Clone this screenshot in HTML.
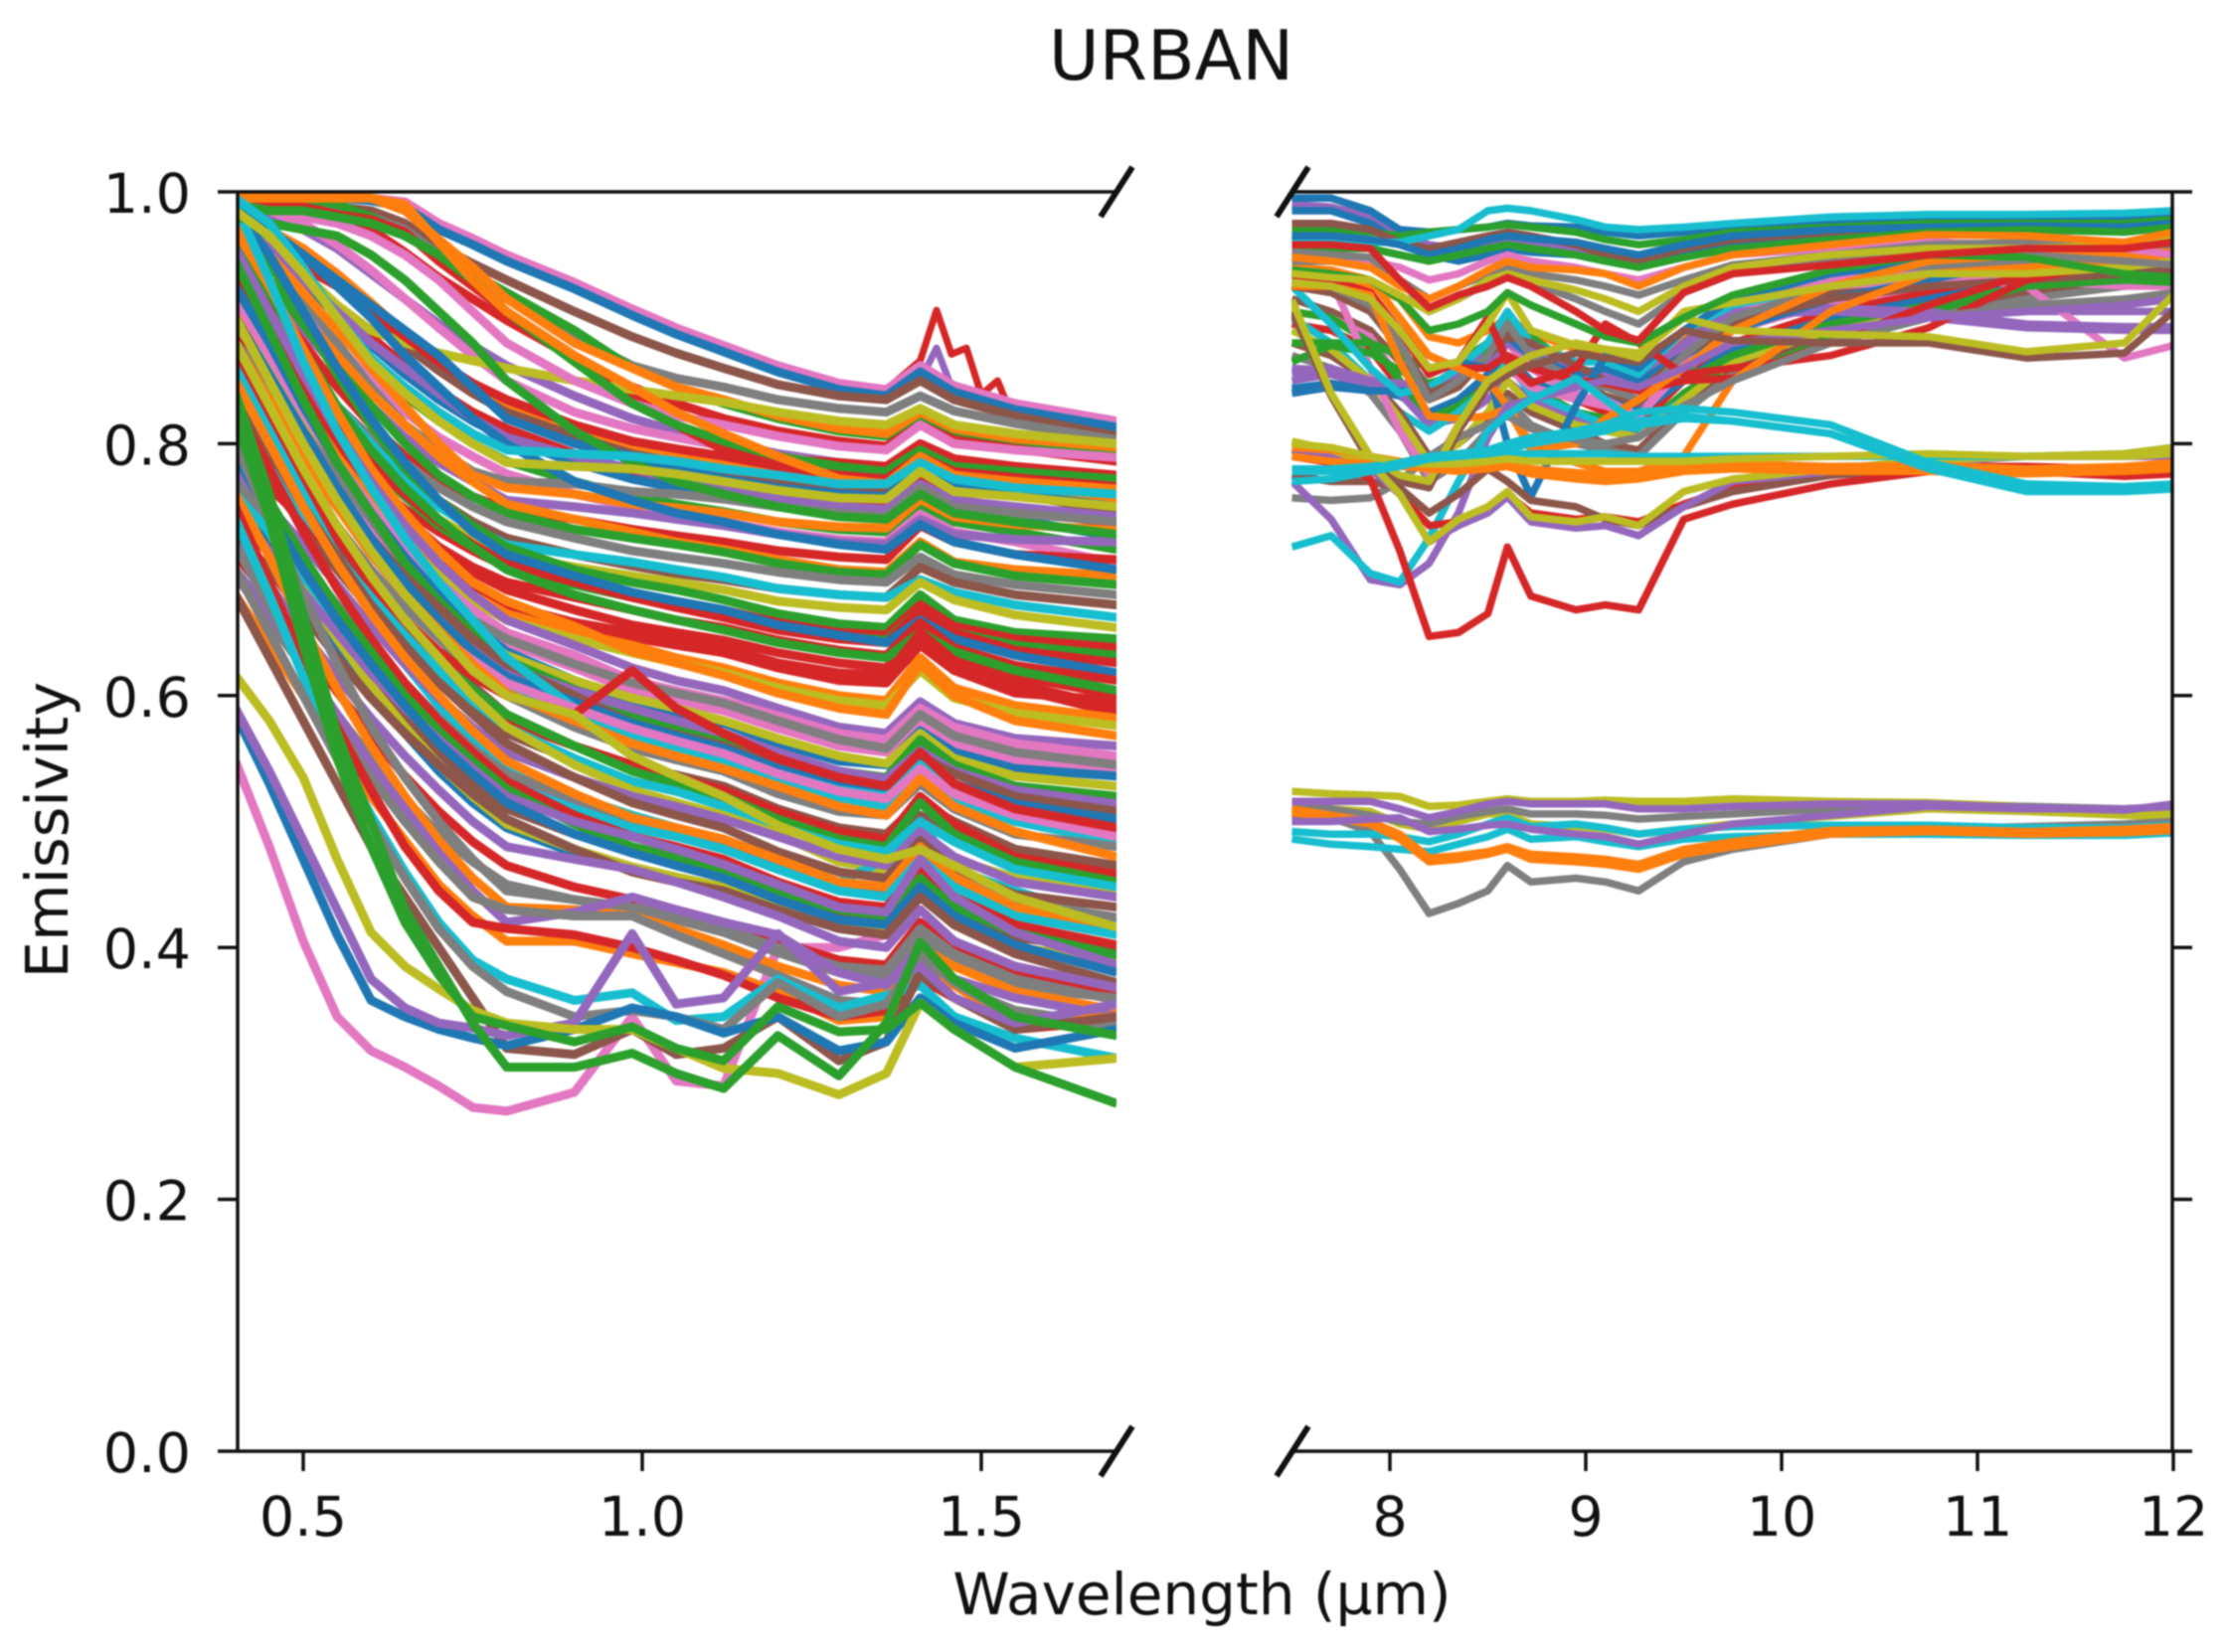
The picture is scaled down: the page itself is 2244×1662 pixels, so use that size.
<!DOCTYPE html>
<html lang="en">
<head>
<meta charset="utf-8">
<title>URBAN emissivity spectra</title>
<style>
html,body{margin:0;padding:0;background:#fff;width:2244px;height:1662px;overflow:hidden}
svg{display:block;filter:blur(0.7px)}
text{font-family:"DejaVu Sans","Liberation Sans",sans-serif;fill:#111}
</style>
</head>
<body>
<svg id="chart" xmlns="http://www.w3.org/2000/svg" width="2244" height="1662" viewBox="0 0 2244 1662">
<defs>
<clipPath id="clip-left"><rect x="239" y="193" width="884" height="1267"/></clipPath>
<clipPath id="clip-right"><rect x="1299" y="193" width="886" height="1267"/></clipPath>
</defs>
<g id="left-lines" clip-path="url(#clip-left)" fill="none" stroke-linejoin="round"></g>
<g id="right-lines" clip-path="url(#clip-right)" fill="none" stroke-linejoin="round"></g>
<g id="axes" stroke="#111" fill="none"></g>
<g id="labels" font-size="55.5"></g>
<text x="1178" y="80" font-size="69.5" text-anchor="middle">URBAN</text>
<text x="1209" y="1624" font-size="58" text-anchor="middle">Wavelength (µm)</text>
<text transform="translate(68,835) rotate(-90)" font-size="59" text-anchor="middle">Emissivity</text>
</svg>
<script>
const palette = ["#1f77b4","#ff7f0e","#2ca02c","#d62728","#9467bd","#8c564b","#e377c2","#7f7f7f","#bcbd22","#17becf"];

const leftWavelengths = [0.40,0.45,0.50,0.55,0.60,0.65,0.70,0.75,0.80,0.90,0.985,1.05,1.12,1.20,1.29,1.36,1.41,1.46,1.55,1.70];
const rightWavelengths = [7.5,7.7,7.9,8.05,8.2,8.35,8.5,8.6,8.72,8.95,9.1,9.27,9.5,9.75,10.25,10.75,11.25,11.75,12];

const leftTickValues = [0.5,1.0,1.5];
const leftTickLabels = ["0.5","1.0","1.5"];
const rightTickValues = [8,9,10,11,12];
const rightTickLabels = ["8","9","10","11","12"];
const yTickValues = [0,0.2,0.4,0.6,0.8,1.0];
const yTickLabels = ["0.0","0.2","0.4","0.6","0.8","1.0"];

const spikeWavelengths = [1.36,1.41,1.434,1.456,1.478,1.50,1.524,1.54,1.60];
const spikeRedValues = [843,866,906,871,876,839,850,829,822];
const spikePurpleValues = [835,850,876,845,835,830,826,824,820];

/* emissivity × 1000, one row per spectrum, painted in order */
const leftSeries = [
[548,480,405,345,318,305,290,273,270,285,345,294,290,400,400,410,440,420,400,385],
[995,995,995,995,995,992,975,963,950,928,907,892,878,862,848,843,862,846,832,818],
[995,995,995,995,993,988,970,958,945,923,902,887,873,857,843,838,857,841,827,813],
[990,990,990,988,985,975,957,943,930,905,885,872,860,847,838,835,850,835,822,806],
[985,985,985,985,980,970,950,930,915,885,862,852,845,835,828,825,838,826,816,803],
[995,995,995,990,980,965,950,935,920,890,860,845,832,820,810,806,822,810,802,794],
[990,990,988,982,970,952,932,915,898,868,845,832,820,810,802,798,815,803,796,786],
[985,980,970,955,935,915,895,878,862,838,820,810,802,792,785,782,798,786,780,770],
[990,985,975,958,938,915,892,870,850,825,812,805,798,790,784,780,798,786,778,768],
[980,970,955,935,912,888,865,845,828,808,796,790,784,776,770,766,784,772,766,756],
[975,962,945,925,900,878,858,840,825,806,792,785,778,770,764,762,780,768,760,746],
[970,955,935,910,885,862,842,825,812,792,778,772,766,758,752,750,770,756,748,736],
[965,950,928,902,878,855,835,818,804,785,772,765,758,750,744,740,760,748,740,726],
[960,940,915,890,862,838,818,800,786,770,758,752,746,738,732,730,752,738,730,716],
[950,930,905,878,850,825,805,790,776,760,750,744,738,730,724,722,744,730,722,705],
[920,885,845,808,772,742,718,698,684,668,656,650,644,634,626,622,650,630,616,600],
[910,872,830,792,758,728,705,686,672,658,646,640,634,624,616,612,644,622,606,586],
[890,850,808,770,735,705,680,660,642,622,604,596,588,574,560,555,580,562,548,540],
[875,835,792,752,718,688,662,640,620,598,582,574,566,552,536,530,558,540,522,512],
[880,838,792,750,712,680,652,628,608,582,566,558,548,534,518,512,538,518,500,484],
[800,770,735,700,668,640,612,590,570,548,532,524,516,500,484,478,505,486,466,454],
[770,738,702,668,636,606,578,555,535,512,498,490,482,465,448,442,475,452,430,420],
[745,712,678,645,612,582,555,530,510,490,476,468,458,442,425,420,452,430,408,398],
[760,720,678,638,602,570,540,515,495,475,462,454,445,430,415,410,440,420,398,388],
[775,730,685,645,608,575,545,520,498,478,464,456,448,432,416,412,445,422,400,390],
[712,678,640,603,568,536,508,484,465,448,438,430,420,405,390,386,420,398,378,366],
[695,660,622,585,550,518,490,468,450,438,430,422,412,396,380,378,408,388,368,360],
[985,985,985,982,978,968,945,925,905,870,838,815,795,788,785,782,800,788,782,775],
[995,995,995,995,995,985,962,940,915,880,860,845,835,822,812,808,825,812,804,797],
[985,960,935,910,890,880,872,866,860,850,843,838,833,825,818,815,828,815,808,800],
[990,985,980,975,965,950,930,905,880,850,832,822,815,806,798,795,815,800,795,789],
[990,985,985,980,975,965,950,930,905,865,832,815,802,790,782,778,795,782,778,772],
[960,950,940,925,905,885,865,848,835,815,802,796,790,782,775,772,790,778,773,766],
[980,965,950,930,910,890,870,845,820,800,790,780,772,765,760,758,780,765,760,750],
[975,955,930,905,880,860,840,820,805,790,780,772,765,756,750,748,768,755,750,742],
[970,945,915,880,845,815,795,778,770,768,762,760,756,750,745,742,765,750,745,738],
[975,950,920,890,860,830,800,775,765,760,752,749,745,738,734,733,756,742,736,731],
[950,925,890,860,830,805,785,770,755,750,745,740,735,728,722,720,740,728,724,722],
[945,915,880,845,815,790,770,758,748,740,732,727,722,715,710,708,735,722,712,708],
[960,930,900,870,840,815,790,770,752,740,730,722,716,708,700,698,722,706,700,695],
[965,930,895,860,830,800,775,758,745,732,725,720,714,705,698,696,720,705,695,688],
[935,905,865,830,805,785,765,750,738,725,715,710,705,698,692,690,710,696,688,680],
[930,895,860,830,800,775,755,738,725,712,703,697,692,685,680,678,702,690,680,672],
[925,890,860,830,800,772,750,733,720,712,706,700,694,685,680,678,692,682,672,662],
[900,870,835,805,780,758,740,725,712,702,695,690,684,675,670,668,690,676,664,654],
[985,945,900,855,815,780,755,735,718,700,690,684,676,665,657,654,680,660,650,645],
[890,860,825,795,770,748,730,715,702,690,680,674,668,658,650,648,672,655,645,638],
[940,900,860,820,785,758,735,718,703,688,678,671,664,654,647,644,668,650,640,632],
[935,900,860,820,785,760,738,720,705,690,678,670,662,652,645,642,668,650,636,626],
[985,950,905,860,820,785,755,730,712,695,682,675,668,656,648,642,660,645,632,618],
[880,850,815,785,758,735,718,702,690,678,668,660,654,644,636,632,658,638,624,612],
[960,920,875,830,795,765,740,718,700,680,668,660,652,642,634,630,650,635,620,604],
[945,900,850,805,765,730,700,680,668,658,650,642,634,622,612,610,640,620,602,596],
[930,890,840,795,755,722,695,675,662,655,650,645,638,626,618,616,650,628,610,590],
[905,870,830,790,755,725,700,680,665,650,640,630,622,610,600,596,630,606,592,582],
[895,860,822,785,750,720,695,675,660,645,634,626,618,606,596,592,620,598,586,576],
[970,925,875,825,780,745,715,690,675,655,635,626,616,602,590,585,625,600,580,568],
[955,905,855,810,770,735,705,680,660,640,622,612,604,590,575,570,595,578,566,560],
[915,870,825,785,750,715,690,668,650,632,612,604,596,584,570,565,590,575,562,552],
[880,850,810,775,740,705,680,660,645,625,610,602,594,580,565,558,585,568,555,545],
[925,880,830,785,745,710,680,655,635,612,595,586,578,562,548,545,572,555,542,536],
[860,830,795,760,725,695,670,650,632,612,598,590,580,566,552,546,570,550,536,528],
[945,890,835,785,745,705,675,650,628,605,585,575,565,552,540,535,565,545,528,520],
[850,820,785,750,715,685,660,640,622,604,590,580,570,555,540,534,556,540,525,514],
[860,830,795,760,725,695,670,645,625,600,578,569,560,545,530,525,552,538,520,508],
[900,855,810,765,725,690,660,635,615,595,578,568,558,542,528,522,548,530,514,502],
[990,930,865,810,765,725,690,660,630,590,570,561,552,538,525,520,545,530,505,494],
[820,790,760,728,698,670,648,628,610,590,574,564,554,538,524,518,542,522,505,488],
[835,800,770,735,700,670,645,620,600,575,558,549,540,522,508,505,530,510,490,480],
[880,835,790,750,712,680,652,625,602,580,562,552,542,528,512,505,534,512,492,472],
[825,790,755,720,690,660,632,608,585,560,545,537,528,510,495,490,515,500,478,465],
[790,765,740,710,680,650,625,600,580,560,545,535,525,508,492,486,520,498,472,458],
[870,820,775,735,695,660,630,605,585,560,540,530,520,502,486,480,515,490,468,452],
[815,780,745,710,678,648,620,596,575,550,532,524,512,496,482,476,500,484,462,448],
[870,820,770,725,690,660,635,615,600,585,620,590,570,550,535,528,555,530,510,495],
[880,830,780,735,695,660,630,600,575,545,525,515,505,490,468,462,472,470,455,441],
[860,810,760,710,665,625,592,565,545,520,505,495,485,470,452,470,500,462,445,420],
[780,750,720,688,655,625,598,575,555,535,520,512,502,488,472,465,492,472,452,440],
[840,795,750,710,672,640,610,585,562,535,515,505,495,476,460,455,485,462,442,432],
[770,740,705,672,640,610,582,558,538,518,502,494,485,468,450,445,478,455,436,424],
[850,800,750,705,665,630,600,572,548,522,503,495,486,470,452,448,480,456,432,416],
[760,730,695,660,628,598,572,550,530,510,495,488,478,462,445,440,470,448,425,410],
[830,780,730,685,645,610,580,555,532,505,488,480,470,452,436,432,462,440,418,402],
[800,755,710,670,635,600,572,548,526,498,480,472,462,445,430,425,455,432,412,394],
[745,715,682,650,618,590,565,542,520,500,488,478,466,450,432,428,470,440,412,386],
[790,745,700,660,625,592,562,538,515,490,475,465,455,438,422,418,448,425,402,380],
[730,700,665,630,598,570,545,522,502,478,460,452,445,430,415,410,440,418,395,372],
[720,688,650,615,582,552,525,500,480,470,462,452,440,425,405,400,430,405,385,368],
[800,740,680,625,575,535,500,470,445,438,432,425,415,400,385,382,415,395,375,358],
[760,710,655,605,560,520,485,455,432,430,425,415,402,385,370,365,400,385,365,350],
[700,665,625,585,545,510,475,445,420,428,440,430,420,410,380,370,400,375,360,345],
[720,670,620,575,535,500,468,440,430,425,425,410,395,378,358,355,388,370,350,338],
[680,640,600,560,520,485,450,425,405,405,395,388,380,365,342,345,376,370,340,345],
[750,690,630,575,525,480,445,420,415,410,400,390,378,360,345,350,375,360,335,342],
[740,680,615,555,505,460,420,390,375,358,364,342,345,375,352,362,370,345,328,312],
[700,650,600,550,500,455,415,385,365,345,350,345,335,372,345,355,395,372,345,338],
[680,630,580,530,480,440,400,360,320,315,335,315,320,345,310,325,380,360,335,345],
[585,530,470,410,358,345,335,328,322,335,352,345,332,345,318,325,360,340,320,335],
[590,540,485,430,375,352,340,336,330,340,411,355,360,411,365,372,385,360,340,355],
[616,580,535,470,412,385,367,350,340,335,335,320,304,300,283,300,356,335,305,312],
[840,760,665,570,500,430,385,340,305,305,316,300,288,330,298,340,404,375,345,330],
[820,740,640,550,480,420,378,345,338,325,337,320,310,353,333,335,356,335,305,276],
[900,850,800,755,715,680,650,620,600,585,552,536,520,497,478,470,478,465,440,416],
[980,975,970,965,950,930,905,880,850,810,785,770,760,750,742,740,760,745,738,728],
[985,970,950,925,900,870,845,820,800,770,755,745,738,728,720,716,736,722,712,700],
[995,995,995,995,995,990,960,930,905,870,845,825,808,790,772,768,790,775,770,764],
[995,975,940,900,868,845,825,808,795,792,790,786,780,775,768,768,785,772,765,760],
[985,965,935,900,865,840,818,800,785,782,780,776,770,763,757,756,778,762,758,750]
];
const leftSeriesColors = [6,6,0,5,7,2,3,4,6,1,5,3,0,2,6,3,3,6,4,9,5,4,5,0,8,3,7,3,1,8,6,2,3,0,4,7,1,4,3,1,2,7,5,9,8,2,3,2,3,0,3,2,3,3,1,8,1,4,6,7,0,8,2,4,5,0,9,6,7,1,5,3,2,9,3,8,9,4,5,7,1,9,3,2,4,0,5,4,7,1,4,7,1,3,9,7,5,0,4,8,2,2,8,2,0,1,9,8];

const rightSeries = [
[935,930,925,915,885,880,890,900,888,875,870,860,885,915,935,945,948,950,952],
[925,920,905,875,845,860,880,905,880,858,850,842,880,910,930,940,945,945,945],
[915,905,890,865,835,845,870,890,865,850,838,830,865,900,920,930,935,938,940],
[905,900,885,850,820,830,855,880,860,840,832,825,855,890,912,925,930,930,935],
[895,890,875,845,815,825,850,870,850,835,825,815,850,880,905,920,930,935,940],
[840,845,842,838,825,835,855,870,850,835,835,825,850,875,900,915,930,938,942],
[905,900,880,850,820,830,845,865,845,825,820,810,840,865,890,910,925,930,932],
[860,858,850,840,815,820,835,850,835,820,815,805,835,860,885,900,905,905,905],
[900,880,850,825,810,825,845,865,840,825,815,812,835,855,880,905,925,935,940],
[880,870,850,825,790,800,820,840,825,810,800,795,830,860,885,905,920,925,930],
[890,875,850,820,785,800,825,850,830,815,810,805,835,865,890,910,925,935,945],
[870,860,840,810,770,785,810,835,815,800,795,790,825,855,880,900,915,925,935],
[965,960,955,950,945,950,955,958,955,950,945,940,948,955,962,968,970,968,972],
[930,930,860,810,775,815,845,860,845,835,830,820,870,900,925,930,930,925,925],
[925,925,915,890,860,860,875,880,860,838,835,822,860,905,930,935,925,868,878],
[880,880,880,870,860,865,880,895,885,860,855,845,850,870,895,910,925,930,928],
[865,878,872,858,848,855,875,900,880,850,845,835,860,850,885,905,925,935,930],
[856,860,850,848,845,860,870,885,875,860,855,850,880,905,908,905,895,893,893],
[850,855,845,842,840,855,865,880,870,855,850,845,875,902,905,900,892,890,890],
[844,848,842,842,840,850,870,885,870,855,860,850,870,890,915,930,945,950,955],
[925,895,860,840,845,860,880,905,880,865,865,855,890,910,925,935,940,945,950],
[925,920,905,880,840,850,870,885,880,862,850,842,870,895,915,925,930,935,938],
[930,925,910,880,835,850,870,895,870,850,845,835,870,900,925,935,945,945,945],
[935,930,915,890,860,865,860,800,758,830,870,860,890,915,935,945,950,952,955],
[925,925,915,890,855,865,900,865,848,860,895,880,855,860,870,892,930,945,958],
[930,930,920,890,870,860,860,870,860,850,848,842,850,852,880,910,935,950,960],
[925,925,918,865,822,820,822,828,795,800,820,835,860,890,925,945,950,950,955],
[940,938,930,900,870,860,850,830,800,785,778,778,790,850,905,935,940,945,950],
[757,755,757,770,790,805,815,822,812,803,800,805,830,850,880,900,910,915,920],
[770,740,692,688,705,745,805,830,835,845,850,845,860,880,890,900,905,910,915],
[905,838,785,770,765,810,845,855,862,872,868,865,890,882,880,880,868,872,905],
[914,840,790,775,770,815,850,860,870,880,875,872,900,890,887,885,873,880,918],
[928,925,915,890,860,865,895,920,890,878,875,868,905,912,925,935,935,940,945],
[990,988,980,965,958,955,958,960,958,955,950,948,950,955,960,965,968,970,975],
[995,995,985,970,968,970,972,975,973,972,968,965,968,972,975,978,978,978,982],
[985,985,975,960,950,945,950,955,952,950,945,942,950,958,965,970,972,972,978],
[970,970,968,965,968,970,972,974,972,968,962,958,962,968,972,975,975,975,978],
[975,975,970,960,955,960,965,968,965,958,950,945,955,962,968,972,972,970,972],
[960,960,960,960,965,970,985,987,985,978,972,970,972,975,980,982,982,983,985],
[965,965,962,958,950,955,962,965,963,960,955,950,958,965,970,972,973,972,975],
[955,955,955,950,945,950,955,958,955,950,945,940,948,955,962,968,970,968,972],
[950,948,945,940,930,935,945,950,945,940,935,930,940,950,955,960,958,955,950],
[945,945,940,930,915,925,935,940,935,930,925,918,930,942,950,958,960,958,958],
[952,950,948,930,905,915,928,935,928,915,905,895,920,935,945,952,950,945,942],
[938,935,930,915,890,895,905,920,910,895,885,880,900,918,938,950,948,935,932],
[935,932,930,918,905,915,930,935,930,922,915,905,925,940,950,955,955,958,962],
[948,945,940,925,915,925,938,945,940,938,935,925,940,950,958,966,965,960,968],
[958,958,955,930,908,918,925,932,925,905,890,882,920,935,942,950,955,955,960],
[718,727,697,690,725,770,810,823,835,852,835,815,820,818,808,782,765,764,766],
[790,785,780,760,735,738,750,760,745,740,742,738,752,765,775,782,782,780,780],
[775,770,770,765,745,760,780,770,755,750,740,735,750,762,775,780,780,778,782],
[795,790,772,715,647,650,665,718,679,668,672,668,740,752,768,778,778,774,776],
[795,790,780,760,722,735,745,758,738,733,735,727,750,770,778,785,790,790,790],
[802,795,785,760,722,740,750,762,742,738,742,735,762,772,780,787,790,790,792],
[790,786,784,782,780,778,780,782,776,772,770,772,778,780,778,778,776,778,780],
[797,795,790,786,782,782,782,784,780,777,775,778,782,784,782,783,780,782,785],
[780,780,782,785,788,790,791,792,792,792,792,790,790,790,790,790,790,792,797],
[800,797,790,785,784,784,786,788,786,786,786,786,786,788,790,792,790,792,797],
[770,772,778,782,788,790,792,796,800,806,810,818,822,818,808,780,762,762,764],
[778,778,780,785,790,792,795,800,805,810,815,825,828,825,815,785,768,766,768],
[512,510,508,498,494,500,506,506,498,496,494,490,494,498,504,510,508,505,503],
[524,522,521,520,512,513,516,518,516,516,517,516,516,518,516,515,512,508,506],
[510,510,505,500,498,504,508,510,506,506,505,502,504,506,510,512,512,510,512],
[505,503,492,462,427,435,445,465,452,455,452,445,468,478,490,494,496,498,500],
[492,490,490,488,484,490,498,503,496,498,495,490,494,496,497,497,495,495,497],
[486,482,480,478,476,482,488,494,486,488,484,480,486,488,490,490,489,489,491],
[510,505,500,490,471,473,476,480,474,472,470,466,478,484,493,494,492,494,496],
[507,503,498,486,468,470,474,478,470,468,466,462,474,480,490,492,490,491,493],
[500,500,502,503,492,494,497,498,494,490,488,482,490,498,505,512,510,510,512],
[516,516,516,510,503,508,514,516,514,514,514,510,510,512,514,514,511,509,514]
];
const rightSeriesColors = [1,7,5,6,3,0,2,4,9,5,8,7,2,6,6,2,2,4,4,0,9,5,7,0,3,3,1,1,7,4,5,8,8,4,0,0,2,5,9,0,2,6,7,7,2,8,1,3,9,3,5,3,4,8,1,1,9,8,9,9,8,8,7,7,9,9,1,1,4,4];

function xLeft(w){ return 305 + (w - 0.5) * 682; }
function xRight(w){ return 1398 + (w - 8) * 197; }
function yAxis(e){ return 1460 - e * 1267; }

const svgNS = "http://www.w3.org/2000/svg";

function drawSpectrum(parent, wavelengths, values, colorIndex, xFn, strokeWidth, name){
  const line = document.createElementNS(svgNS, "polyline");
  
  
  const pts = [];
  for (let i = 0; i < values.length; i++) {
    pts.push(xFn(wavelengths[i]).toFixed(1) + "," + yAxis(values[i] / 1000).toFixed(1));
  }
  line.setAttribute("points", pts.join(" "));
  line.setAttribute("stroke", palette[colorIndex]);
  line.setAttribute("stroke-width", strokeWidth);
  parent.appendChild(line);
}

const leftGroup = document.getElementById("left-lines");
const rightGroup = document.getElementById("right-lines");
drawSpectrum(leftGroup, spikeWavelengths, spikeRedValues, 3, xLeft, 7, "spike-red-spectrum");
drawSpectrum(leftGroup, spikeWavelengths, spikePurpleValues, 4, xLeft, 7, "spike-purple-spectrum");
leftSeries.forEach(function(values, i){
  drawSpectrum(leftGroup, leftWavelengths, values, leftSeriesColors[i], xLeft, 9, "vnir-spectrum-line");
});
rightSeries.forEach(function(values, i){
  drawSpectrum(rightGroup, rightWavelengths, values, rightSeriesColors[i], xRight, 7.5, "tir-spectrum-line");
});

const axes = document.getElementById("axes");
const labels = document.getElementById("labels");

function segment(x1, y1, x2, y2, width, name){
  const seg = document.createElementNS(svgNS, "line");
  
  
  seg.setAttribute("x1", x1);
  seg.setAttribute("y1", y1);
  seg.setAttribute("x2", x2);
  seg.setAttribute("y2", y2);
  seg.setAttribute("stroke-width", width);
  axes.appendChild(seg);
}
function label(x, y, anchor, str, name){
  const t = document.createElementNS(svgNS, "text");
  
  
  t.setAttribute("x", x);
  t.setAttribute("y", y);
  t.setAttribute("text-anchor", anchor);
  t.textContent = str;
  labels.appendChild(t);
}

segment(239, 193, 239, 1460, 3.5, "left-panel-left-spine");
segment(2185, 193, 2185, 1460, 3.5, "right-panel-right-spine");
segment(239, 193, 1123, 193, 3.5, "left-panel-top-spine");
segment(239, 1460, 1123, 1460, 3.5, "left-panel-bottom-spine");
segment(1299, 193, 2185, 193, 3.5, "right-panel-top-spine");
segment(1299, 1460, 2185, 1460, 3.5, "right-panel-bottom-spine");

[193, 1460].forEach(function(y){
  segment(1107, y + 25, 1139, y - 25, 6, "axis-break-mark-left");
  segment(1284, y + 25, 1316, y - 25, 6, "axis-break-mark-right");
});

yTickValues.forEach(function(v, i){
  const y = yAxis(v);
  segment(219, y, 239, y, 3.5, "y-tick-left");
  segment(2185, y, 2205, y, 3.5, "y-tick-right");
  label(192, y + 21, "end", yTickLabels[i], "y-tick-label");
});
leftTickValues.forEach(function(v, i){
  const x = xLeft(v);
  segment(x, 1460, x, 1480, 3.5, "x-tick-left");
  label(x, 1545, "middle", leftTickLabels[i], "x-tick-label-left");
});
rightTickValues.forEach(function(v, i){
  const x = xRight(v);
  segment(x, 1460, x, 1480, 3.5, "x-tick-right");
  label(x, 1545, "middle", rightTickLabels[i], "x-tick-label-right");
});
</script>
</body>
</html>
